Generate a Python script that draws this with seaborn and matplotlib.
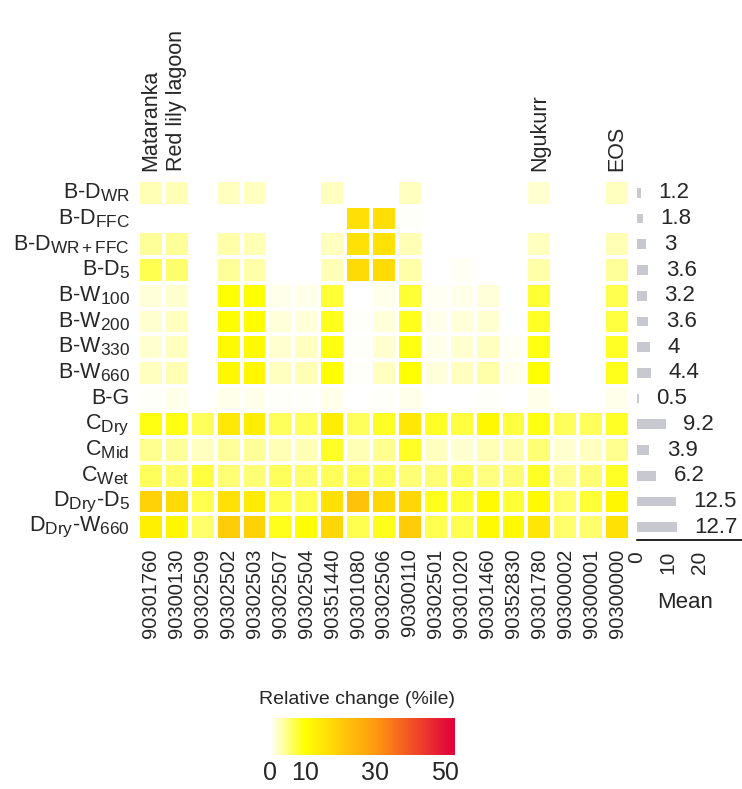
import numpy as np
import pandas as pd
import matplotlib
matplotlib.use("Agg")
import matplotlib.pyplot as plt
from matplotlib.colors import LinearSegmentedColormap
import seaborn as sns

try:
    import matplotlib._mathtext as _mt
    _mt.SHRINK_FACTOR = 0.8
except Exception:
    pass

sns.set_style("white")
plt.rcParams['font.family'] = ['Liberation Sans', 'DejaVu Sans']
plt.rcParams['mathtext.fontset'] = 'custom'
plt.rcParams['mathtext.rm'] = 'Liberation Sans'
plt.rcParams['mathtext.it'] = 'Liberation Sans:italic'
plt.rcParams['mathtext.bf'] = 'Liberation Sans:bold'

# ---------------- data ----------------
gauges = ["90301760", "90300130", "90302509", "90302502", "90302503", "90302507",
          "90302504", "90351440", "90301080", "90302506", "90300110", "90302501",
          "90301020", "90301460", "90352830", "90301780", "90300002", "90300001",
          "90300000"]
site_names = {0: "Mataranka", 1: "Red lily lagoon", 15: "Ngukurr", 18: "EOS"}

scenarios = [r"B-D$_\mathrm{WR}$", r"B-D$_\mathrm{FFC}$", r"B-D$_\mathrm{WR+FFC}$",
             r"B-D$_\mathrm{5}$", r"B-W$_\mathrm{100}$", r"B-W$_\mathrm{200}$",
             r"B-W$_\mathrm{330}$", r"B-W$_\mathrm{660}$", "B-G",
             r"C$_\mathrm{Dry}$", r"C$_\mathrm{Mid}$", r"C$_\mathrm{Wet}$",
             r"D$_\mathrm{Dry}$-D$_\mathrm{5}$", r"D$_\mathrm{Dry}$-W$_\mathrm{660}$"]

r_BD_WR    = [3, 3, 0.2, 2.5, 2.5, 0.2, 0.2, 2.5, 0.2, 0.2, 2.5, 0.2, 0.2, 0.2, 0.2, 2, 0.2, 0.2, 2.5]
r_BD_FFC   = [0.1, 0.1, 0, 0.1, 0.1, 0, 0, 0.1, 16.5, 16.5, 0.3, 0, 0, 0, 0, 0.1, 0, 0, 0.1]
r_BD_WRFFC = [4, 4, 0, 3.5, 3, 0, 0, 2.5, 16, 16, 3, 0, 0, 0, 0, 2.5, 0, 0, 3]
r_BD_5     = [7, 6, 0, 4, 3.5, 0, 0, 3, 17, 17, 3.5, 0, 0.5, 0, 0, 3.5, 0, 0, 4]
r_BW_100   = [1.5, 2, 0, 10, 10, 1, 1, 8, 0, 1, 8, 0.5, 1, 1.5, 0, 8, 0, 0, 7]
r_BW_200   = [2, 2.5, 0, 10.5, 10.5, 1.5, 1.5, 9, 0.3, 1.5, 9, 1, 1.5, 2, 0.2, 8.5, 0, 0, 7.5]
r_BW_330   = [2, 2.5, 0, 11, 11, 2, 2.5, 9.5, 0.3, 2, 9.5, 1, 2, 2.5, 0.5, 9.5, 0, 0, 8.5]
r_BW_660   = [2.5, 3, 0, 11.5, 11.5, 2.5, 3, 10, 0.3, 2.5, 10, 1.5, 2.5, 3.5, 1, 10, 0, 0, 9]
r_BG       = [0.3, 1, 0.2, 1, 1, 0.3, 0.3, 1, 0.2, 0.3, 1, 0.2, 0.2, 0.3, 0.2, 1, 0.1, 0.1, 1]
r_CDry     = [9.5, 9.5, 6.5, 14.5, 13.5, 6.5, 6.5, 13.5, 6.5, 8.5, 14.5, 8.5, 7.5, 11.5, 7.5, 9.5, 6.5, 6.5, 8.5]
r_CMid     = [4.5, 4, 2.5, 4, 4, 3, 3, 8.5, 3, 4.5, 8.5, 2.5, 2, 3, 3.5, 5.5, 2, 2.5, 4.5]
r_CWet     = [6.5, 6, 7.5, 5.5, 5.5, 6.5, 6, 6.5, 6.5, 6.5, 5.5, 5.5, 6.5, 5, 5.5, 8.5, 4.5, 5.5, 8.5]
r_DDry_D5  = [19, 17, 7, 16, 14, 7, 7, 16, 22, 18, 18, 9, 8, 11, 8, 11, 6, 8, 12]
r_DDry_W660 = [13, 12, 6, 20, 19, 9, 10, 18, 7, 9, 20, 7, 7, 11, 11, 15, 6, 6, 16]

mean_values = [1.2, 1.8, 3, 3.6, 3.2, 3.6, 4, 4.4, 0.5, 9.2, 3.9, 6.2, 12.5, 12.7]

cbar_ticks = [0, 10, 30, 50]

rows = [r_BD_WR, r_BD_FFC, r_BD_WRFFC, r_BD_5, r_BW_100, r_BW_200, r_BW_330,
        r_BW_660, r_BG, r_CDry, r_CMid, r_CWet, r_DDry_D5, r_DDry_W660]
df = pd.DataFrame(rows, index=scenarios, columns=gauges)

# ---------------- figure ----------------
W, H = 742, 789
fig = plt.figure(figsize=(W / 100, H / 100), dpi=100)

def rect(x0, y0, x1, y1):
    return [x0 / W, 1 - y1 / H, (x1 - x0) / W, (y1 - y0) / H]

vmax = 53
cmap = LinearSegmentedColormap.from_list(
    "rc", [(0, "#FFFFFF"), (10 / vmax, "#FFFF00"), (30 / vmax, "#FF9A10"),
           (50 / vmax, "#E41038"), (1, "#E0003A")])

ax = fig.add_axes(rect(138, 180, 630, 540))
sns.heatmap(df, ax=ax, cmap=cmap, vmin=0, vmax=vmax, cbar=False,
            linewidths=1.6, linecolor="white", square=False)
ax.tick_params(length=0, pad=6)
ax.set_xticklabels(gauges, rotation=90, fontsize=14.5)
ax.set_yticklabels(scenarios, rotation=0, fontsize=15.5)
ax.set_xlabel("")
ax.set_ylabel("")
for i, name in site_names.items():
    ax.text(i + 0.5, -0.35, name, rotation=90, ha="center", va="bottom",
            fontsize=15.5)

# mean bars
axm = fig.add_axes(rect(637, 180, 742, 540))
ypos = np.arange(len(mean_values)) + 0.5
axm.barh(ypos, mean_values, height=0.38, color="#C8C8D0", edgecolor="none")
for y, v in zip(ypos, mean_values):
    axm.text(v + 5.6, y, "{:g}".format(v), ha="left", va="center", fontsize=16)
axm.set_ylim(len(mean_values), 0)
axm.set_xlim(0, 33.5)
for s in ["top", "right", "left"]:
    axm.spines[s].set_visible(False)
axm.spines["bottom"].set_color("black")
axm.spines["bottom"].set_linewidth(1.2)
axm.set_yticks([])
axm.set_xticks([0, 10, 20])
axm.set_xticklabels(["0", "10", "20"], rotation=90, fontsize=15)
axm.tick_params(axis="x", length=6, width=1.2, color="black", direction="out", pad=2)
axm.set_xlabel("Mean", fontsize=16)
axm.xaxis.set_label_coords(0.457, -0.145)
axm.patch.set_alpha(0)

# colorbar
cax = fig.add_axes(rect(270, 718, 455, 755))
sm = plt.cm.ScalarMappable(cmap=cmap, norm=plt.Normalize(0, vmax))
cb = fig.colorbar(sm, cax=cax, orientation="horizontal", ticks=cbar_ticks)
cb.outline.set_visible(False)
cax.tick_params(axis="x", length=6, width=1.5, color="white", direction="in",
                bottom=True, top=True, labelsize=18, pad=4)
cax.set_xticklabels([str(t) for t in cbar_ticks])
fig.text(357 / W, 1 - 700 / H, "Relative change (%ile)", ha="center",
         va="center", fontsize=14)

fig.savefig("out.png", dpi=100)
